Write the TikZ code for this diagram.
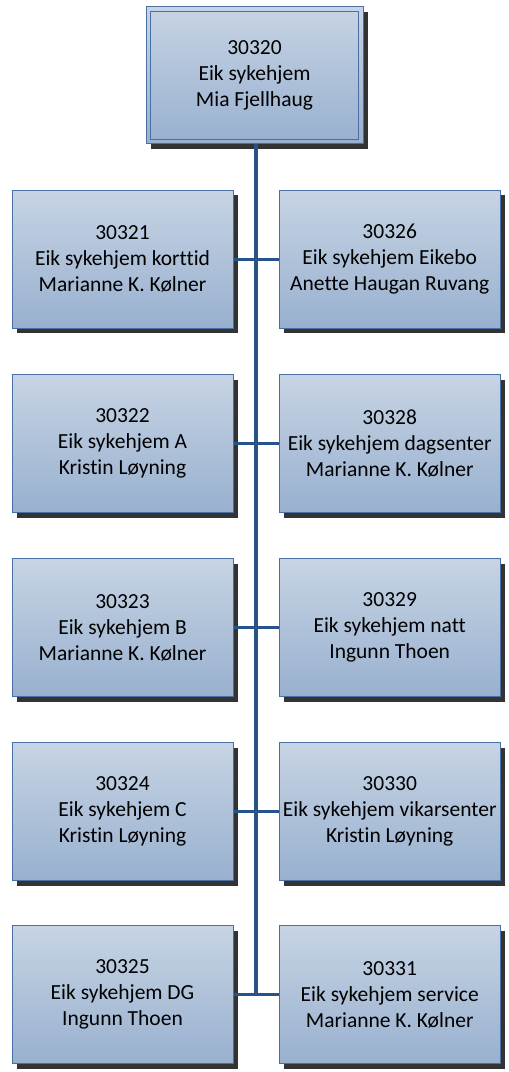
\documentclass[tikz,border=0pt]{standalone}
\usepackage{fontspec}
\setmainfont{Carlito}[Ligatures=NoCommon]
\usetikzlibrary{shadows,calc}
\definecolor{boxtop}{HTML}{C7D4E4}
\definecolor{boxbot}{HTML}{98B0CF}
\definecolor{boxline}{HTML}{4A6FA5}
\definecolor{conn}{HTML}{28528A}
\definecolor{shad}{HTML}{333333}
\tikzset{
  unit/.style={draw=boxline, line width=1pt, top color=boxtop, bottom color=boxbot,
    minimum width=221pt, minimum height=138pt, inner sep=0pt, align=center,
    font=\fontsize{21.5}{26}\selectfont,
    drop shadow={shadow xshift=4.5pt, shadow yshift=-5pt, fill=shad, opacity=1, draw=none}},
  headunit/.style={unit, minimum width=217pt, minimum height=137pt},
  innerframe/.style={draw=boxline, line width=1pt},
  link/.style={draw=conn, line width=3pt},
  bus/.style={draw=conn, line width=3.4pt}
}
\begin{document}
\begin{tikzpicture}[x=1pt,y=-1pt]
\useasboundingbox (0,0) rectangle (509,1072);
\node[headunit] (top) at (254.5,75) {30320\\Eik sykehjem\\Mia Fjellhaug};
\draw[innerframe] ([shift={(5pt,-5pt)}]top.north west) rectangle ([shift={(-5pt,5pt)}]top.south east);

\node[unit] (l1) at (122.5,259) {30321\\Eik sykehjem korttid\\Marianne K. Kølner};
\node[unit] (r1) at (389.7,259) {30326\\Eik sykehjem Eikebo\\Anette Haugan Ruvang};
\node[unit] (l2) at (122.5,443.5) {30322\\Eik sykehjem A\\Kristin Løyning};
\node[unit] (r2) at (389.7,443.5) {30328\\Eik sykehjem dagsenter\\Marianne K. Kølner};
\node[unit] (l3) at (122.5,627.8) {30323\\Eik sykehjem B\\Marianne K. Kølner};
\node[unit] (r3) at (389.7,627.8) {30329\\Eik sykehjem natt\\Ingunn Thoen};
\node[unit] (l4) at (122.5,811.5) {30324\\Eik sykehjem C\\Kristin Løyning};
\node[unit] (r4) at (389.7,811.5) {30330\\Eik sykehjem vikarsenter\\Kristin Løyning};
\node[unit] (l5) at (122.5,994.8) {30325\\Eik sykehjem DG\\Ingunn Thoen};
\node[unit] (r5) at (389.7,994.8) {30331\\Eik sykehjem service\\Marianne K. Kølner};

\coordinate (busend) at (256,994.8);
\path[bus] (top.south -| busend) -- (busend);
\foreach \i in {1,...,5} {
  \path[link] (l\i.east) -- (r\i.west);
}
\end{tikzpicture}
\end{document}
